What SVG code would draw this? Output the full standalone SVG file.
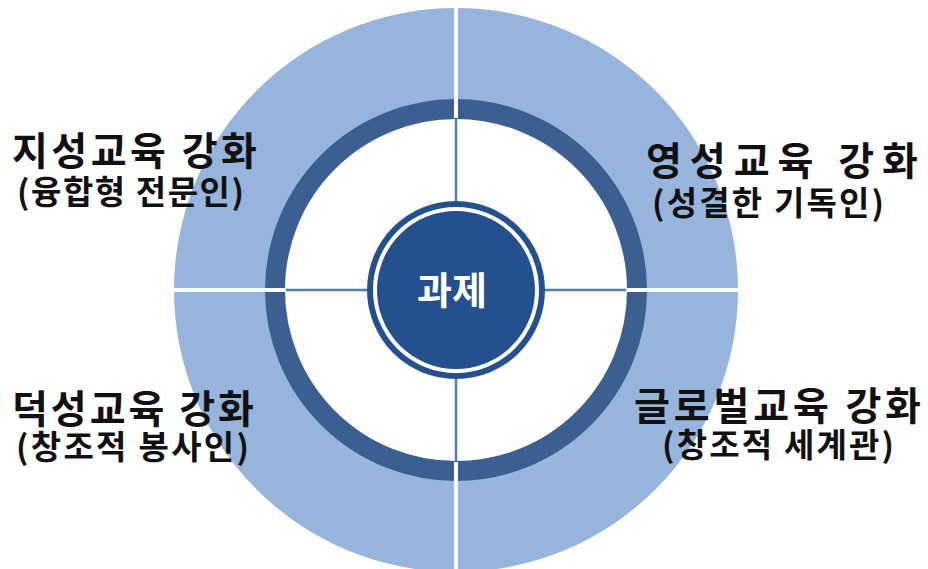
<svg xmlns="http://www.w3.org/2000/svg" width="928" height="569" viewBox="0 0 928 569">
<style>
.lbl{font-family:"Noto Sans CJK KR","Noto Sans",sans-serif;font-weight:700;fill:#111;}
.l1{font-size:39px;}
.l2{font-size:33px;}
.div-w{stroke:#ffffff;stroke-width:4;}
.div-b{stroke:#4F7DB8;stroke-width:2.5;}
</style>
<rect width="928" height="569" fill="#ffffff"/>
<g id="ring">
  <circle cx="456" cy="290" r="282" fill="#97B5DC"/>
  <circle cx="456" cy="290" r="181" fill="#ffffff" stroke="#3A5F90" stroke-width="20"/>
</g>
<g id="connectors">
  <line class="div-w" x1="456" y1="0" x2="456" y2="118"/>
  <line class="div-w" x1="456" y1="462" x2="456" y2="569"/>
  <line class="div-w" x1="170" y1="290" x2="285" y2="290"/>
  <line class="div-w" x1="627" y1="290" x2="745" y2="290"/>
  <line class="div-b" x1="456" y1="119" x2="456" y2="202"/>
  <line class="div-b" x1="456" y1="378" x2="456" y2="461"/>
  <line class="div-b" x1="286" y1="290" x2="368" y2="290"/>
  <line class="div-b" x1="544" y1="290" x2="626" y2="290"/>
</g>
<g id="center">
  <circle cx="456" cy="290" r="89" fill="#24508D"/>
  <circle cx="456" cy="290" r="81" fill="none" stroke="#ffffff" stroke-width="4"/>
  <text x="452" y="304" text-anchor="middle" font-family="'Noto Sans CJK KR',sans-serif" font-weight="700" font-size="38" fill="#ffffff">과제</text>
</g>
<g id="node-intellect">
  <text class="lbl l1" x="12" y="165" textLength="245">지성교육 강화</text>
  <text class="lbl l2" x="17" y="204" textLength="227">(융합형 전문인)</text>
</g>
<g id="node-spirit">
  <text class="lbl l1" x="646" y="175" textLength="272">영성교육 강화</text>
  <text class="lbl l2" x="652" y="215" textLength="232">(성결한 기독인)</text>
</g>
<g id="node-virtue">
  <text class="lbl l1" x="12" y="423" textLength="242">덕성교육 강화</text>
  <text class="lbl l2" x="16" y="459" textLength="233">(창조적 봉사인)</text>
</g>
<g id="node-global">
  <text class="lbl l1" x="634" y="420" textLength="287">글로벌교육 강화</text>
  <text class="lbl l2" x="662" y="457" textLength="232">(창조적 세계관)</text>
</g>
</svg>
